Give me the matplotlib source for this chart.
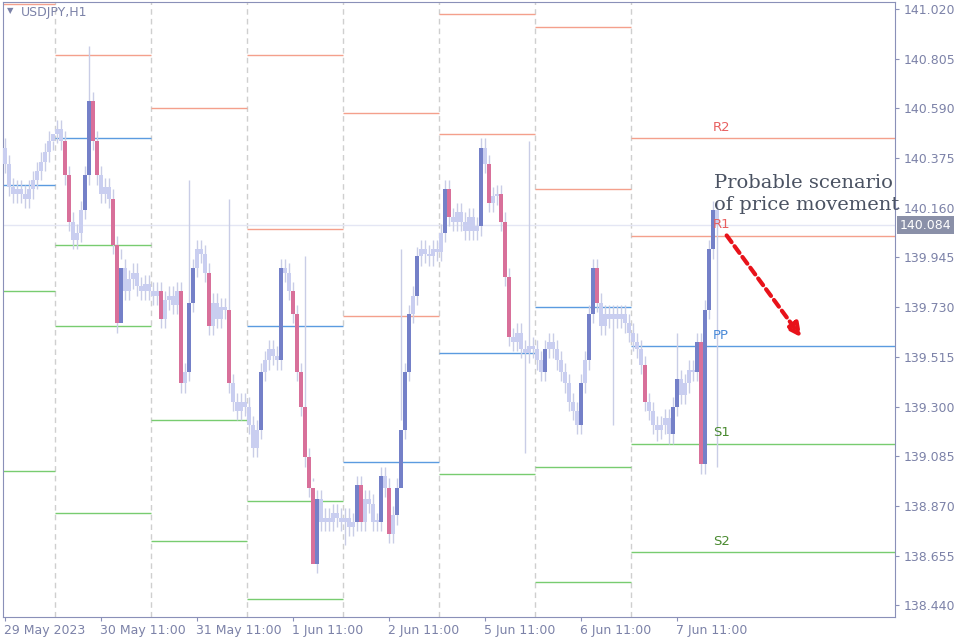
import matplotlib
matplotlib.use("Agg")
import matplotlib.pyplot as plt
from matplotlib.patches import Rectangle

# closes per hour, by day
d29 = [140.35,140.25,140.22,140.24,140.22,140.20,140.24,140.28,140.32,140.36,140.40,140.45,140.48]
d30 = [140.50,140.45,140.30,140.10,140.02,140.05,140.15,140.30,140.62,140.45,140.30,140.22,140.25,140.20,140.00,139.66,139.90,139.80,139.85,139.88,139.82,139.80,139.83,139.80]
d31 = [139.78,139.80,139.68,139.76,139.78,139.74,139.80,139.40,139.45,139.75,139.90,139.98,139.96,139.88,139.65,139.75,139.68,139.73,139.72,139.40,139.32,139.28,139.32,139.30]
d01 = [139.22,139.12,139.20,139.45,139.50,139.55,139.52,139.50,139.90,139.88,139.80,139.70,139.45,139.30,139.08,138.95,138.62,138.90,138.80,138.82,138.80,138.84,138.82,138.80]
d02 = [138.82,138.78,138.80,138.96,138.80,138.90,138.88,138.80,138.80,139.00,138.95,138.75,138.83,138.95,139.20,139.45,139.70,139.78,139.95,139.98,139.96,139.95,139.98,139.97]
d05 = [140.05,140.24,140.12,140.10,140.14,140.10,140.06,140.12,140.06,140.08,140.42,140.35,140.18,140.21,140.22,140.10,139.86,139.60,139.58,139.62,139.55,139.53,139.56,139.55]
d06 = [139.50,139.45,139.55,139.58,139.55,139.50,139.45,139.40,139.32,139.28,139.22,139.40,139.50,139.70,139.90,139.75,139.65,139.70,139.68,139.70,139.68,139.70,139.66,139.62]
d07 = [139.58,139.55,139.48,139.32,139.28,139.22,139.20,139.22,139.25,139.18,139.30,139.42,139.35,139.40,139.46,139.45,139.58,139.05,139.72,139.98,140.15,140.084]
first_open = 140.42
spike_high = {21: 140.86, 12: 140.45, 46: 140.28, 56: 140.20, 75: 139.95, 131: 140.45, 168: 139.62, 180: 140.24}
spike_low = {29: 139.98, 77: 138.98, 99: 139.98, 85: 138.70, 130: 139.10, 152: 139.22, 163: 139.15, 178: 139.04}

# pivot levels per day: (start index, end index, resistances, pivot, supports)
pivot_days = [
    (0, 13, [141.04], 140.26, [139.80, 139.02]),
    (13, 37, [140.82], 140.46, [140.00, 139.65, 138.84]),
    (37, 61, [140.59], None, [139.24, 138.72]),
    (61, 85, [140.82, 140.07], 139.65, [138.89, 138.47]),
    (85, 109, [140.57, 139.69], 139.06, []),
    (109, 133, [141.00, 140.48], 139.53, [139.01]),
    (133, 157, [140.94, 140.24], 139.73, [139.04, 138.54]),
    (157, 223, [140.46, 140.04], 139.56, [139.14, 138.67]),
]
last_labels = ["R2", "R1", "PP", "S1", "S2"]
tick_prices = [141.020,140.805,140.590,140.375,140.160,139.945,139.730,139.515,139.300,139.085,138.870,138.655,138.440]
xtick_pos = [0, 24, 48, 72, 96, 120, 144, 168]
xtick_lab = ["29 May 2023", "30 May 11:00", "31 May 11:00", "1 Jun 11:00", "2 Jun 11:00", "5 Jun 11:00", "6 Jun 11:00", "7 Jun 11:00"]
last_price = 140.084

closes = d29 + d30 + d31 + d01 + d02 + d05 + d06 + d07

fig = plt.figure(figsize=(9.6, 6.4), dpi=100)
ax = fig.add_axes([3/960, 23/640, 892/960, 615/640])
ax.set_xlim(-0.5, 222.5)
ax.set_ylim(138.39, 141.05)

BULL, BEAR, LIGHT = "#7480c8", "#d8709a", "#c9cef0"
prev = first_open
for i, c in enumerate(closes):
    o = prev
    hi = spike_high.get(i, max(o, c) + 0.04)
    lo = spike_low.get(i, min(o, c) - 0.04)
    if abs(c - o) >= 0.1:
        col = BULL if c > o else BEAR
    else:
        col = LIGHT
    ax.vlines(i, lo, hi, color="#c9cde6", lw=1, zorder=2)
    ax.add_patch(Rectangle((i - 0.42, min(o, c)), 0.84, max(abs(c - o), 0.01), fc=col, ec="none", zorder=3))
    prev = c

for s, e, res, pp, sup in pivot_days:
    for r in res:
        ax.hlines(r, s - 0.5, e - 0.5, color="#f4a08c", lw=1, zorder=1)
    if pp is not None:
        ax.hlines(pp, s - 0.5, e - 0.5, color="#5b9be0", lw=1, zorder=1)
    for sp in sup:
        ax.hlines(sp, s - 0.5, e - 0.5, color="#78cc70", lw=1, zorder=1)
    if s > 0:
        ax.axvline(s - 0.5, color="#cfcfcf", lw=1, ls=(0, (4, 3)), zorder=0)

s, e, res, pp, sup = pivot_days[-1]
lab_cols = ["#e86060", "#e86060", "#4a8ad8", "#4a8a30", "#4a8a30"]
for lab, val, col in zip(last_labels, res + [pp] + sup, lab_cols):
    ax.text(177, val + 0.02, lab, color=col, fontsize=9.5, va="bottom", ha="left")

ax.axhline(last_price, color="#e4e6f4", lw=1, zorder=0)

ax.text(177.3, 140.22, "Probable scenario\nof price movement", fontsize=14, family="DejaVu Serif",
        color="#4a5262", ha="left", va="center", linespacing=1.25, zorder=5)
ax.annotate("", xy=(199.5, 139.59), xytext=(180, 140.05),
            arrowprops=dict(arrowstyle="-|>,head_length=0.8,head_width=0.4", color="#e8121a", lw=3,
                            ls=(0, (2, 1.2)), fill=False))

ax.yaxis.tick_right()
ax.set_yticks(tick_prices)
ax.set_yticklabels([f"{p:.3f}" for p in tick_prices])
ax.set_xticks(xtick_pos)
ax.set_xticklabels([])
ax.tick_params(colors="#8a90b8", labelcolor="#7c82a8", labelsize=9, length=3)
for xp, lab in zip(xtick_pos, xtick_lab):
    ax.annotate(lab, xy=(xp, 0), xycoords=("data", "axes fraction"),
                xytext=(-1, -5), textcoords="offset points", ha="left", va="top",
                fontsize=9, color="#7c82a8")
for sp in ax.spines.values():
    sp.set_color("#8a90b8")
ax.text(1.005, (last_price - 138.39) / (141.05 - 138.39), f"{last_price:.3f}", transform=ax.transAxes,
        fontsize=9, color="white", va="center", ha="left",
        bbox=dict(boxstyle="square,pad=0.2", fc="#8a90a8", ec="none"))
ax.text(0.02, 0.993, "USDJPY,H1", transform=ax.transAxes, fontsize=9, color="#7c82a8", va="top")
ax.text(0.004, 0.993, "▼", transform=ax.transAxes, fontsize=6, color="#7c82a8", va="top")
fig.savefig("out.png", dpi=100)
